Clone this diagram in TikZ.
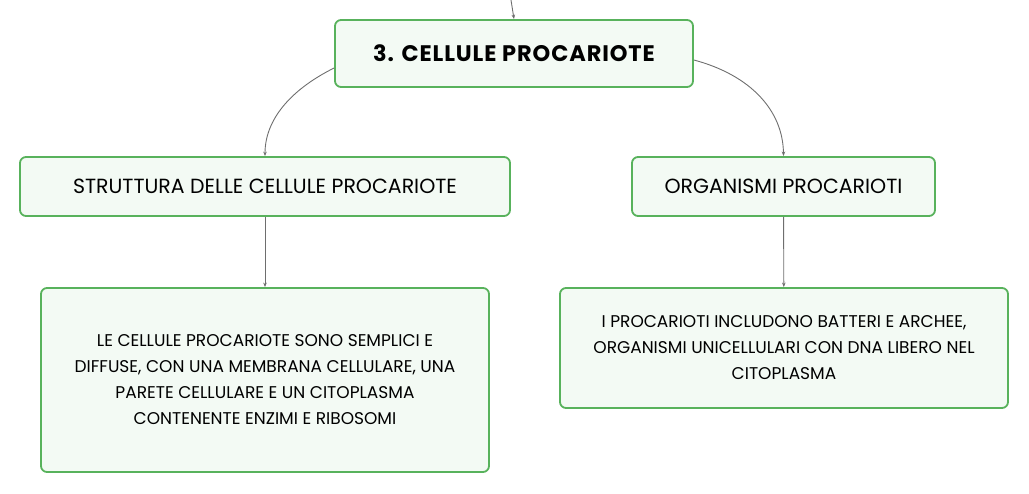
\documentclass[tikz,border=0pt]{standalone}
\usepackage{fontspec}
\setmainfont{Poppins}
\newfontfamily\titlefont[LetterSpace=4]{Poppins}
\usetikzlibrary{arrows.meta}

\definecolor{boxgreen}{RGB}{88,178,92}
\definecolor{boxfill}{RGB}{243,250,244}
\definecolor{linegray}{RGB}{110,110,110}

\begin{document}
\begin{tikzpicture}[
    x=1pt, y=-1pt, >={Stealth[length=4.5pt,width=3.5pt]},
    topic/.style={rectangle, rounded corners=6pt, draw=boxgreen, line width=1.8pt,
        fill=boxfill, inner sep=0pt, align=center},
    link/.style={draw=linegray, line width=0.9pt}
]
    \useasboundingbox (0,0) rectangle (1029,494);

    \node[topic, minimum width=358pt, minimum height=67pt,
        font=\titlefont\fontsize{22.5}{26}\selectfont\bfseries] (main) at (514,53.5) {3. CELLULE PROCARIOTE};
    \node[topic, minimum width=490pt, minimum height=59pt,
        font=\fontsize{20.5}{24}\selectfont] (struct) at (265,186.5) {STRUTTURA DELLE CELLULE PROCARIOTE};
    \node[topic, minimum width=303pt, minimum height=59pt,
        font=\fontsize{20.5}{24}\selectfont] (organ) at (783.5,186.5) {ORGANISMI PROCARIOTI};
    \node[topic, minimum width=448pt, minimum height=184pt,
        font=\fontsize{17}{26}\selectfont] (structtxt) at (265,380)
        {LE CELLULE PROCARIOTE SONO SEMPLICI E\\DIFFUSE, CON UNA MEMBRANA CELLULARE, UNA\\PARETE CELLULARE E UN CITOPLASMA\\CONTENENTE ENZIMI E RIBOSOMI};
    \node[topic, minimum width=448pt, minimum height=120pt,
        font=\fontsize{17}{26}\selectfont] (organtxt) at (784,348)
        {I PROCARIOTI INCLUDONO BATTERI E ARCHEE,\\ORGANISMI UNICELLULARI CON DNA LIBERO NEL\\CITOPLASMA};

    \coordinate (parent) at (511,0);

    % collegamento dal nodo superiore
    \path[link, ->] (parent) -- (main.north);

    % rami verso i sottotemi
    \path[link, ->] (main.west |- 0,68) .. controls (290,90) and (265,120) .. (struct.north);
    \path[link, ->] (main.east |- 0,60) .. controls (750,75) and (783,110) .. (organ.north);

    % dettagli
    \path[link, ->] (struct) -- (structtxt);
    \path[link, ->] (organ) -- (organtxt);
\end{tikzpicture}
\end{document}
